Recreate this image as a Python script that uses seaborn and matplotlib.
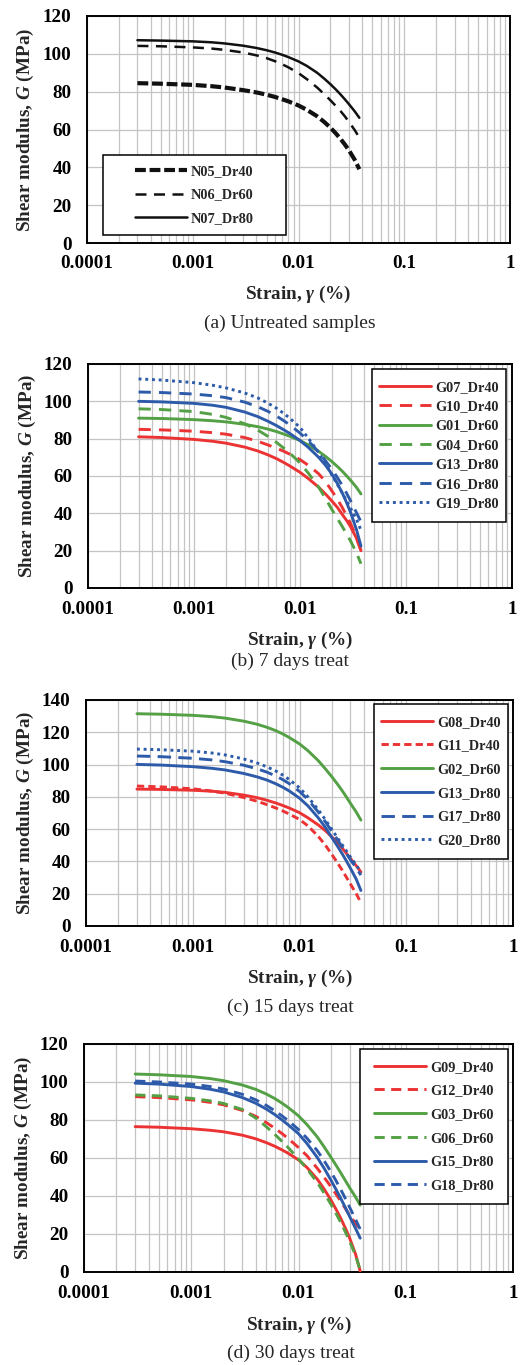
import matplotlib
matplotlib.use("Agg")
import matplotlib.pyplot as plt
import seaborn as sns
import pandas as pd
from matplotlib.ticker import LogLocator, MultipleLocator, FixedLocator, FixedFormatter, NullFormatter
from matplotlib.patches import Rectangle

# ---------------- data ----------------
strain = [0.0003, 0.0005, 0.001, 0.0015, 0.002, 0.003, 0.004, 0.005, 0.006, 0.007, 0.008,
          0.01, 0.012, 0.015, 0.0175, 0.02, 0.0225, 0.025, 0.0275, 0.03, 0.034, 0.0376]

# (a) Untreated samples
N05_Dr40 = [84.5, 84.2, 83.6, 82.9, 82.2, 80.8, 79.6, 78.4, 77.2, 76.0, 74.9,
            72.7, 70.4, 67.0, 64.0, 61.0, 58.0, 55.0, 52.0, 49.0, 44.0, 39.0]
N06_Dr60 = [104.2, 104.0, 103.4, 102.8, 102.1, 100.7, 99.2, 97.7, 96.1, 94.5, 92.9,
            89.8, 86.6, 82.2, 78.7, 75.5, 72.5, 69.7, 66.9, 64.0, 59.7, 55.7]
N07_Dr80 = [107.2, 107.0, 106.6, 106.1, 105.5, 104.3, 103.1, 101.9, 100.7, 99.5, 98.3,
            96.0, 93.6, 90.0, 86.9, 84.0, 81.2, 78.5, 75.9, 73.4, 69.6, 66.2]

# (b) 7 days treat
G07_Dr40 = [81.0, 80.6, 79.6, 78.6, 77.6, 75.5, 73.4, 71.3, 69.3, 67.3, 65.4,
            62.0, 58.6, 54.0, 50.2, 46.6, 43.2, 39.5, 36.2, 32.8, 26.8, 20.0]
G10_Dr40 = [85.0, 84.7, 84.0, 83.2, 82.4, 80.6, 78.6, 76.6, 74.9, 73.3, 71.7,
            68.8, 65.7, 61.2, 56.8, 52.0, 47.6, 43.2, 38.8, 34.5, 27.5, 20.0]
G01_Dr60 = [91.0, 90.8, 90.2, 89.6, 89.0, 87.7, 86.4, 85.1, 83.8, 82.5, 81.3,
            79.0, 76.6, 73.2, 70.4, 67.7, 65.1, 62.6, 60.1, 57.7, 54.0, 50.4]
G04_Dr60 = [96.0, 95.6, 94.5, 93.0, 91.4, 88.0, 84.6, 81.2, 78.0, 75.0, 72.3,
            67.0, 61.5, 54.0, 47.8, 42.0, 37.3, 33.0, 29.0, 25.2, 19.0, 13.0]
G13_Dr80_b = [100.0, 99.7, 98.9, 97.9, 96.8, 94.3, 91.8, 89.3, 87.0, 84.8, 82.8,
              79.0, 75.3, 70.0, 65.6, 61.0, 56.0, 51.0, 45.8, 40.5, 31.5, 22.5]
G16_Dr80 = [105.0, 104.7, 103.9, 103.0, 102.0, 99.6, 97.1, 94.6, 92.1, 89.7, 87.4,
            83.0, 78.8, 72.8, 68.0, 63.5, 59.2, 55.0, 50.8, 46.7, 40.5, 35.5]
G19_Dr80 = [112.0, 111.4, 110.0, 108.6, 107.2, 104.5, 101.8, 99.0, 96.3, 93.6, 91.0,
            86.0, 80.2, 72.5, 66.3, 60.5, 55.5, 51.0, 46.8, 42.8, 37.0, 31.0]

# (c) 15 days treat
G08_Dr40 = [84.8, 84.6, 84.1, 83.5, 82.8, 81.1, 79.5, 77.8, 76.2, 74.6, 73.1,
            70.2, 67.0, 62.6, 59.0, 55.3, 51.8, 48.4, 45.0, 41.8, 37.3, 33.5]
G11_Dr40 = [86.7, 86.2, 85.0, 83.6, 82.3, 79.6, 77.3, 75.1, 73.1, 71.2, 69.4,
            66.0, 62.0, 55.5, 50.0, 44.5, 39.5, 34.8, 30.2, 26.0, 20.0, 14.5]
G02_Dr60 = [131.5, 131.2, 130.5, 129.7, 128.8, 126.9, 125.0, 123.0, 121.0, 118.9, 116.8,
            112.8, 108.6, 102.4, 97.3, 92.6, 88.2, 84.0, 79.9, 76.0, 70.6, 65.6]
G13_Dr80_c = [100.1, 99.7, 98.7, 97.7, 96.7, 94.5, 92.4, 90.3, 88.1, 85.9, 83.7,
              79.2, 74.4, 67.0, 61.0, 55.0, 49.8, 45.0, 40.3, 35.8, 29.0, 22.0]
G17_Dr80 = [105.3, 104.9, 103.9, 102.9, 101.8, 99.6, 97.4, 95.2, 92.9, 90.6, 88.2,
            83.4, 78.3, 70.6, 64.5, 58.8, 53.8, 49.2, 45.0, 41.0, 36.0, 31.5]
G20_Dr80 = [109.6, 109.2, 108.3, 107.2, 106.0, 103.5, 101.0, 98.5, 96.0, 93.4, 90.8,
            85.6, 80.0, 72.0, 65.8, 60.0, 55.0, 50.5, 46.5, 42.7, 37.7, 33.5]

# (d) 30 days treat
G09_Dr40 = [76.5, 76.2, 75.4, 74.6, 73.8, 72.0, 70.1, 68.1, 66.2, 64.3, 62.5,
            59.0, 55.0, 48.8, 43.3, 38.0, 32.8, 27.8, 22.8, 17.8, 9.5, 0.5]
G12_Dr40 = [92.3, 91.8, 90.6, 89.3, 88.0, 85.0, 81.9, 78.7, 75.7, 72.9, 70.3,
            65.5, 61.2, 54.5, 49.5, 45.0, 40.8, 36.9, 33.2, 29.8, 25.6, 22.5]
G03_Dr60 = [104.2, 103.8, 102.9, 101.8, 100.7, 98.4, 96.1, 93.7, 91.3, 88.9, 86.6,
            82.2, 77.6, 71.0, 65.5, 60.5, 56.0, 51.8, 47.9, 44.3, 39.5, 35.2]
G06_Dr60 = [93.2, 92.7, 91.4, 90.1, 88.7, 85.5, 81.0, 76.5, 72.5, 68.8, 65.5,
            59.5, 54.3, 47.0, 41.2, 35.8, 30.6, 25.6, 20.8, 16.2, 8.8, 1.0]
G15_Dr80 = [99.4, 98.9, 97.6, 96.2, 94.8, 91.8, 88.8, 85.8, 82.9, 80.1, 77.5,
            72.8, 67.6, 60.2, 54.2, 48.5, 43.2, 38.3, 33.6, 29.2, 23.0, 17.8]
G18_Dr80 = [100.5, 100.0, 98.9, 97.6, 96.3, 93.5, 90.6, 87.7, 84.9, 82.2, 79.7,
            75.0, 70.4, 63.8, 58.2, 52.9, 47.8, 43.0, 38.4, 34.0, 27.8, 22.5]

x_tick_values = [0.0001, 0.001, 0.01, 0.1, 1]
x_tick_labels = ["0.0001", "0.001", "0.01", "0.1", "1"]
captions = ["(a) Untreated samples", "(b) 7 days treat", "(c) 15 days treat", "(d) 30 days treat"]

# ---------------- style ----------------
sns.set_theme(style="white")
plt.rcParams["font.family"] = ["Liberation Serif", "DejaVu Serif"]
plt.rcParams["mathtext.fontset"] = "custom"
plt.rcParams["mathtext.rm"] = "Liberation Serif:bold"
plt.rcParams["mathtext.it"] = "Liberation Serif:italic:bold"
plt.rcParams["mathtext.bf"] = "Liberation Serif:bold"

RED = "#EB3334"
GREEN = "#53A045"
BLUE = "#2D5BAA"
BLACK = "#111111"

W, H = 521, 1365
fig = plt.figure(figsize=(W / 100, H / 100), dpi=100)

def fx(px):
    return px / W

def fy(py):
    return 1 - py / H

SOLID = "-"
def dash(on, off):
    return (0, (on, off))

LW = 2.1
panels = [
    dict(box=(87, 16, 510, 243), ymax=120,
         series=[("N05_Dr40", N05_Dr40, BLACK, 3.0, dash(2.6, 0.9)),
                 ("N06_Dr60", N06_Dr60, BLACK, 1.8, dash(4.4, 3.0)),
                 ("N07_Dr80", N07_Dr80, BLACK, 1.8, SOLID)],
         leg=(103, 155, 286, 235), spacing=0.75,
         xlab=(298, 294), cap=(290, 323), ylab=(25, 129.5)),
    dict(box=(88, 364, 512, 588), ymax=120,
         series=[("G07_Dr40", G07_Dr40, RED, LW, SOLID),
                 ("G10_Dr40", G10_Dr40, RED, LW, dash(4.2, 2.8)),
                 ("G01_Dr60", G01_Dr60, GREEN, LW, SOLID),
                 ("G04_Dr60", G04_Dr60, GREEN, LW, dash(4.2, 2.8)),
                 ("G13_Dr80", G13_Dr80_b, BLUE, LW, SOLID),
                 ("G16_Dr80", G16_Dr80, BLUE, LW, dash(4.2, 2.8)),
                 ("G19_Dr80", G19_Dr80, BLUE, LW, dash(1.0, 1.3))],
         leg=(372, 369, 506, 522), spacing=0.45,
         xlab=(300, 640), cap=(290, 661), ylab=(27, 476)),
    dict(box=(86, 700, 513, 926), ymax=140,
         series=[("G08_Dr40", G08_Dr40, RED, LW, SOLID),
                 ("G11_Dr40", G11_Dr40, RED, LW, dash(2.5, 1.4)),
                 ("G02_Dr60", G02_Dr60, GREEN, LW, SOLID),
                 ("G13_Dr80", G13_Dr80_c, BLUE, LW, SOLID),
                 ("G17_Dr80", G17_Dr80, BLUE, LW, dash(4.6, 2.5)),
                 ("G20_Dr80", G20_Dr80, BLUE, LW, dash(1.0, 1.3))],
         leg=(374, 704, 508, 859), spacing=0.75,
         xlab=(300, 978), cap=(290, 1007), ylab=(25, 813)),
    dict(box=(84, 1044, 513, 1272), ymax=120,
         series=[("G09_Dr40", G09_Dr40, RED, LW, SOLID),
                 ("G12_Dr40", G12_Dr40, RED, LW, dash(3.5, 2.2)),
                 ("G03_Dr60", G03_Dr60, GREEN, LW, SOLID),
                 ("G06_Dr60", G06_Dr60, GREEN, LW, dash(3.5, 2.2)),
                 ("G15_Dr80", G15_Dr80, BLUE, LW, SOLID),
                 ("G18_Dr80", G18_Dr80, BLUE, LW, dash(3.5, 2.2))],
         leg=(360, 1049, 508, 1204), spacing=0.75,
         xlab=(299, 1325), cap=(291, 1353), ylab=(23, 1158)),
]

TICK_FS = 13.8
for i, p in enumerate(panels):
    x0, y0, x1, y1 = p["box"]
    ax = fig.add_axes([fx(x0), fy(y1), fx(x1) - fx(x0), fy(y0) - fy(y1)])
    ax.set_xscale("log")
    for label, vals, color, lw, ls in p["series"]:
        df = pd.DataFrame({"strain": strain, "G": vals})
        sns.lineplot(data=df, x="strain", y="G", ax=ax, color=color, linewidth=lw,
                     linestyle=ls, label=label, errorbar=None, legend=False, zorder=3)
    ax.set_xlim(0.0001, 1)
    ax.set_ylim(0, p["ymax"])
    ax.xaxis.set_major_locator(FixedLocator(x_tick_values))
    ax.xaxis.set_major_formatter(FixedFormatter(x_tick_labels))
    ax.xaxis.set_minor_locator(LogLocator(base=10, subs=[2, 3, 4, 5, 6, 7, 8, 9], numticks=20))
    ax.xaxis.set_minor_formatter(NullFormatter())
    ax.yaxis.set_major_locator(MultipleLocator(20))
    ax.yaxis.set_minor_locator(MultipleLocator(5))
    ax.grid(False)
    ax.xaxis.grid(True, which="both", color="#C4C4C4", linewidth=0.9, zorder=0)
    ax.yaxis.grid(True, which="major", color="#C4C4C4", linewidth=0.9, zorder=0)
    ax.set_axisbelow(True)
    ax.tick_params(which="both", direction="in", top=False, right=False, colors="black")
    ax.tick_params(which="major", length=4, width=1)
    ax.tick_params(which="minor", length=3, width=0.8)
    ax.tick_params(axis="x", which="major", pad=9, labelsize=TICK_FS)
    ax.tick_params(axis="y", which="major", pad=11, labelsize=TICK_FS)
    for t in ax.get_xticklabels() + ax.get_yticklabels():
        t.set_fontweight("bold")
    for s in ax.spines.values():
        s.set_color("black")
        s.set_linewidth(1.4)
    ax.set_facecolor("white")

    ax.set_xlabel(r"Strain, $\it{\gamma}$ (%)", fontsize=TICK_FS, fontweight="bold")
    ax.xaxis.set_label_coords(fx(p["xlab"][0]), fy(p["xlab"][1]), transform=fig.transFigure)
    ax.xaxis.label.set_verticalalignment("center")
    ax.set_ylabel(r"Shear modulus, $\it{G}$ (MPa)", fontsize=TICK_FS, fontweight="bold")
    ax.yaxis.set_label_coords(fx(p["ylab"][0]), fy(p["ylab"][1]), transform=fig.transFigure)
    ax.yaxis.label.set_verticalalignment("center")

    # legend box
    lx0, ly0, lx1, ly1 = p["leg"]
    ax_w = x1 - x0
    ax_h = y1 - y0
    rx0 = (lx0 - x0) / ax_w
    rx1 = (lx1 - x0) / ax_w
    ry0 = (y1 - ly1) / ax_h
    ry1 = (y1 - ly0) / ax_h
    ax.add_patch(Rectangle((rx0, ry0), rx1 - rx0, ry1 - ry0, transform=ax.transAxes,
                           facecolor="white", edgecolor="black", linewidth=1.1, zorder=4))
    leg = ax.legend(loc="center", bbox_to_anchor=((rx0 + rx1) / 2, (ry0 + ry1) / 2),
                    frameon=False, prop={"family": "Liberation Serif", "weight": "bold", "size": 10.3},
                    handlelength=3.6, handletextpad=0.3, labelspacing=p["spacing"],
                    borderpad=0.2, borderaxespad=0)
    leg.set_zorder(5)

    fig.text(fx(p["cap"][0]), fy(p["cap"][1]), captions[i], ha="center", va="center",
             fontsize=14, family="Liberation Serif")

fig.savefig("out.png", dpi=100)
